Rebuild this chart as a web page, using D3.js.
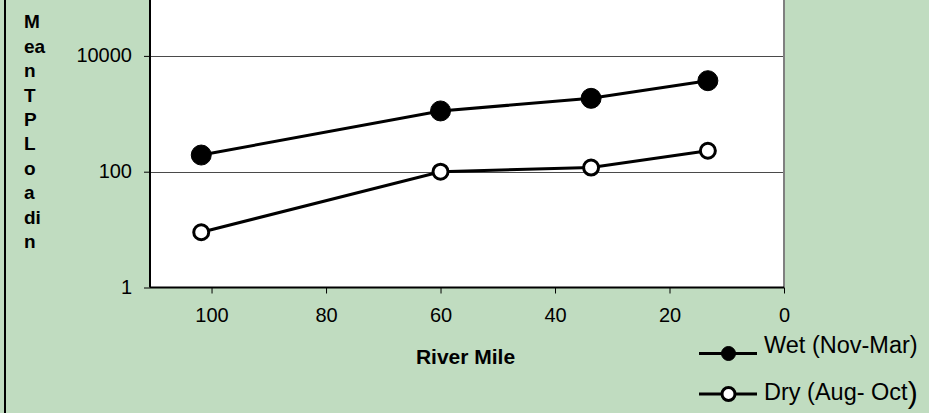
<!DOCTYPE html>
<html>
<head>
<meta charset="utf-8">
<script src="https://cdn.jsdelivr.net/npm/d3@7"></script>
<style>
  html, body { margin: 0; padding: 0; background: #c0dcc0; }
  svg { display: block; font-family: 'Liberation Sans', Arial, sans-serif; }
</style>
</head>
<body>
<div id="chart"></div>
<script>
// river mile of each station
const riverMile = [101.8, 60, 33.7, 13.3];
// mean TP load
const wetLoad = [194, 1120, 1850, 3730];
const dryLoad = [9, 100, 118, 230];
const yTicks = [1, 100, 10000];
const xTicks = [100, 80, 60, 40, 20, 0];
const titleLines = ['M', 'ea', 'n', 'T', 'P', 'L', 'o', 'a', 'di', 'n'];

const w = 929;
const h = 413;

const plot = { left: 150, right: 784, top: -2, bottom: 287.5 };

const svg = d3.select('#chart')
  .append('svg')
    .attr('width', w)
    .attr('height', h);

svg.append('rect')
    .attr('width', w)
    .attr('height', h)
    .attr('fill', '#c0dcc0');

// left border of the chart area
svg.append('line')
    .attr('x1', 5).attr('x2', 5)
    .attr('y1', 0).attr('y2', h)
    .attr('stroke', '#000')
    .attr('stroke-width', 2);

const xScale = d3.scaleLinear()
  .domain([110.75, 0])
  .range([plot.left, plot.right]);

const yScale = d3.scaleLog()
  .domain([1, 100000])
  .range([plot.bottom, plot.top]);

svg.append('rect')
    .attr('x', plot.left)
    .attr('y', plot.top)
    .attr('width', plot.right - plot.left)
    .attr('height', plot.bottom - plot.top)
    .attr('fill', '#fff');

// gridlines
svg.append('g')
  .selectAll('line')
  .data(yTicks.slice(1))
  .enter()
  .append('line')
    .attr('x1', plot.left)
    .attr('x2', plot.right)
    .attr('y1', d => Math.round(yScale(d)) + 0.5)
    .attr('y2', d => Math.round(yScale(d)) + 0.5)
    .attr('stroke', '#4a4a4a')
    .attr('stroke-width', 1);

// right border of plot
svg.append('line')
    .attr('x1', plot.right).attr('x2', plot.right)
    .attr('y1', plot.top).attr('y2', plot.bottom)
    .attr('stroke', '#808080')
    .attr('stroke-width', 2);

const yAxis = d3.axisLeft(yScale)
  .tickValues(yTicks)
  .tickFormat(d3.format('d'))
  .tickSize(6)
  .tickPadding(12);

const xAxis = d3.axisBottom(xScale)
  .tickValues(xTicks)
  .tickFormat(d3.format('d'))
  .tickSize(6)
  .tickPadding(14);

const gy = svg.append('g')
    .attr('transform', `translate(${plot.left}, 0)`)
  .call(yAxis);

const gx = svg.append('g')
    .attr('transform', `translate(0, ${plot.bottom})`)
  .call(xAxis);

[gx, gy].forEach(g => {
  g.select('.domain').attr('stroke', '#000').attr('stroke-width', 2);
  g.selectAll('.tick line').attr('stroke', '#000').attr('stroke-width', 1);
  g.selectAll('.tick text')
    .attr('fill', '#000')
    .style('font-size', '20px')
    .style('font-family', "'Liberation Sans', Arial, sans-serif");
});
gy.select('.domain').attr('d', `M0,${plot.top}V${plot.bottom}`);
gx.select('.domain').attr('d', `M${plot.left},0H${plot.right}`);
gy.selectAll('.tick text').attr('dy', '0.3em');

// y title, wrapped one chunk per line
svg.append('g')
  .selectAll('text')
  .data(titleLines)
  .enter()
  .append('text')
    .attr('x', 24)
    .attr('y', (d, i) => 28.3 + i * 24.4)
    .attr('font-weight', 'bold')
    .attr('font-size', '19px')
    .text(d => d);

svg.append('text')
    .attr('x', 465.5)
    .attr('y', 364)
    .attr('text-anchor', 'middle')
    .attr('font-weight', 'bold')
    .attr('font-size', '21px')
    .text('River Mile');

const line = d3.line()
  .x((d, i) => xScale(riverMile[i]))
  .y(d => yScale(d));

const series = [
  { name: 'wet', values: wetLoad, fill: '#000', r: 10 },
  { name: 'dry', values: dryLoad, fill: '#fff', r: 7.5 },
];

series.forEach(s => {
  svg.append('path')
      .datum(s.values)
      .attr('d', line)
      .attr('fill', 'none')
      .attr('stroke', '#000')
      .attr('stroke-width', 3);

  svg.append('g')
    .selectAll('circle')
    .data(s.values)
    .enter()
    .append('circle')
      .attr('cx', (d, i) => xScale(riverMile[i]))
      .attr('cy', d => yScale(d))
      .attr('r', s.r)
      .attr('fill', s.fill)
      .attr('stroke', '#000')
      .attr('stroke-width', s.name === 'dry' ? 3 : 1);
});

// legend
const legend = [
  { label: 'Wet (Nov-Mar)', fill: '#000', r: 7, y: 353.3, ly: 353.5 },
  { label: 'Dry (Aug- Oct', fill: '#fff', r: 6.5, y: 399.5, ly: 394 },
];

legend.forEach((d, i) => {
  const g = svg.append('g');
  g.append('line')
      .attr('x1', 699).attr('x2', 757)
      .attr('y1', d.ly).attr('y2', d.ly)
      .attr('stroke', '#000')
      .attr('stroke-width', 3);
  g.append('circle')
      .attr('cx', 728.5)
      .attr('cy', d.ly)
      .attr('r', d.r)
      .attr('fill', d.fill)
      .attr('stroke', '#000')
      .attr('stroke-width', i === 1 ? 3 : 1);
  const t = g.append('text')
      .attr('x', 764)
      .attr('y', d.y)
      .attr('font-size', '23.5px')
      .text(d.label);
  if (i === 1) {
    t.append('tspan')
        .attr('font-size', '30px')
        .attr('dy', 3)
        .text(')');
  }
});
</script>
</body>
</html>
